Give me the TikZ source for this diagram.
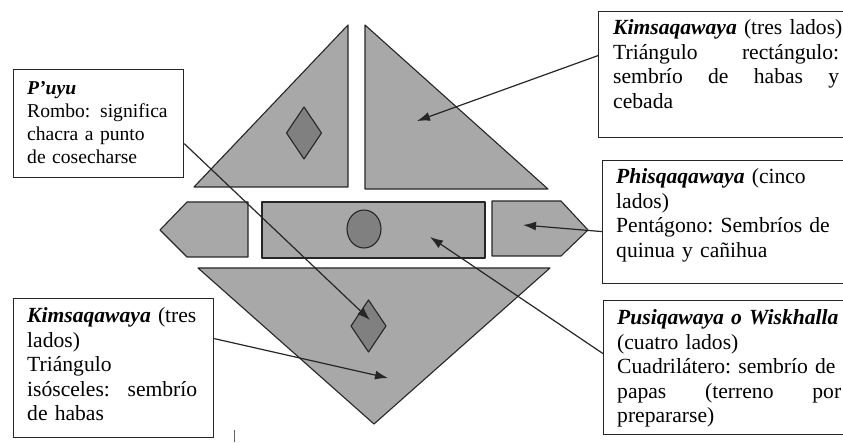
\documentclass[tikz,border=0pt]{standalone}
\usepackage{fontspec}
\setmainfont{Liberation Serif}
\usetikzlibrary{arrows.meta}
\definecolor{fieldgray}{RGB}{168,168,168}
\definecolor{markgray}{RGB}{128,128,128}
\newcommand{\qname}[1]{\textbf{\textit{#1}}}
\newcommand{\fillline}[2]{\leavevmode\hbox to #1{#2}}
\begin{document}
\begin{tikzpicture}[x=1pt, y=-1pt, >={Latex[length=13pt,width=9pt]},
    field/.style={draw=black!85, line width=1.1pt, fill=fieldgray, line join=round},
    sign/.style={draw=black!85, line width=1.1pt, fill=markgray, line join=round},
    note/.style={draw=black!85, line width=1.2pt, fill=white, inner sep=0pt, anchor=north west},
    notetext/.style={anchor=base west, inner sep=0pt, align=left,
      font=\fontsize{21.6}{24.4}\selectfont\frenchspacing},
    link/.style={->, draw=black!85, line width=1.2pt}]
  \useasboundingbox (0,0) rectangle (843,443);
  % the fields
  \draw[field] (194,187) -- (348,25) -- (348,187) -- cycle;
  \draw[field] (365,25) -- (365,189) -- (548,189) -- cycle;
  \draw[field] (160,230) -- (187,202) -- (248,202) -- (248,257) -- (187,257) -- cycle;
  \draw[field] (262,202) rectangle (485,258);
  \draw[field] (492,201) -- (561,201) -- (588,230) -- (561,256) -- (492,256) -- cycle;
  \draw[field] (198,268) -- (550,268) -- (374,424) -- cycle;
  \draw[sign] (304,107) -- (321.5,133) -- (304,159) -- (286.5,133) -- cycle;
  \draw[sign] (368.5,300) -- (386,326) -- (368.5,352) -- (351,326) -- cycle;
  \draw[sign] (364,229) ellipse [x radius=17, y radius=19];
  % where the arrows point
  \coordinate (puyutip) at (370,320);
  \coordinate (kimsauptip) at (417,121);
  \coordinate (phisqatip) at (523,225);
  \coordinate (pusiqatip) at (430,237);
  \coordinate (kimsadowntip) at (388,378);
  % the boxes
  \node[note, minimum width=170pt, minimum height=108pt] (puyu) at (13,69) {};
  \node[note, minimum width=252pt, minimum height=126pt] (kimsaup) at (598,11) {};
  \node[note, minimum width=248pt, minimum height=123pt] (phisqa) at (602,160) {};
  \node[note, minimum width=247pt, minimum height=134pt] (pusiqa) at (603,300) {};
  \node[note, minimum width=200pt, minimum height=139pt] (kimsadown) at (13,298) {};
  \node[notetext, text width=160pt, font=\fontsize{19.6}{22.7}\selectfont] (puyutext) at (27,95)
    {\qname{P’uyu}\\ Rombo: significa\\ chacra a punto\\ de cosecharse};
  \node[notetext, text width=260pt] (kimsauptext) at (613,35)
    {\qname{Kimsaqawaya} (tres lados)\\ \fillline{226pt}{Triángulo\hfill rectángulo:}\\
     \fillline{226pt}{sembrío\hfill de\hfill habas\hfill y}\\ cebada};
  \node[notetext, text width=240pt] (phisqatext) at (616,184)
    {\qname{Phisqaqawaya} (cinco\\ lados)\\ Pentágono: Sembríos de\\ quinua y cañihua};
  \node[notetext, text width=240pt] (pusiqatext) at (617,325)
    {\qname{Pusiqawaya o Wiskhalla}\\ (cuatro lados)\\ Cuadrilátero: sembrío de\\
     \fillline{224pt}{papas\hfill (terreno\hfill por}\\ prepararse)};
  \node[notetext, text width=190pt] (kimsadowntext) at (27,323)
    {\qname{Kimsaqawaya} (tres\\ lados)\\ Triángulo\\ \fillline{170pt}{isósceles:\hfill sembrío}\\ de habas};
  % arrows
  \draw[link] ([yshift=-20pt]puyu.east) -- (puyutip);
  \draw[link] ([yshift=19pt]kimsaup.west) -- (kimsauptip);
  \draw[link] ([yshift=-9.5pt]phisqa.west) -- (phisqatip);
  \draw[link] ([yshift=14pt]pusiqa.west) -- (pusiqatip);
  \draw[link] ([yshift=29.5pt]kimsadown.east) -- (kimsadowntip);
  \draw[black!60, line width=0.8pt] (234,430) -- (234,442);
\end{tikzpicture}
\end{document}
